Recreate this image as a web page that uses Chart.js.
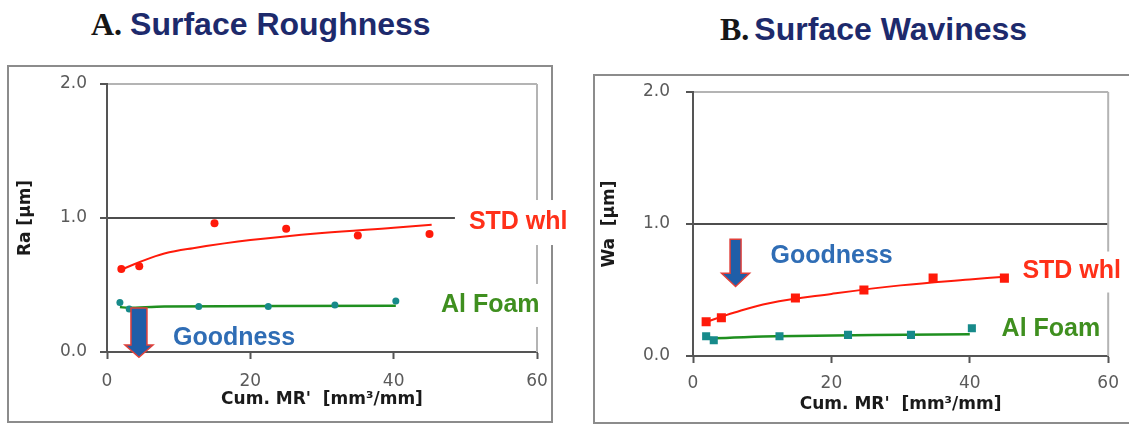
<!DOCTYPE html>
<html>
<head>
<meta charset="utf-8">
<script src="https://cdn.jsdelivr.net/npm/chart.js@4.4.0/dist/chart.umd.min.js"></script>
<style>
  html, body { margin: 0; padding: 0; background: #fff; }
  #page { position: relative; width: 1129px; height: 428px; overflow: hidden; background: #fff; }
  .frame { position: absolute; border: 2px solid #8c8c8c; box-sizing: border-box; }
  .title { position: absolute; white-space: nowrap; font: bold 32px/32px "Liberation Sans", Arial, sans-serif; }
  .title .lead { font-family: "Liberation Serif", "Times New Roman", serif; color: #161616; }
  .title .main { color: #1d2a6c; }
  canvas { position: absolute; top: 0; }
</style>
</head>
<body>
<div id="page">
  <div class="frame" style="left:7px; top:65px; width:546px; height:358px;"></div>
  <div class="frame" style="left:593px; top:74px; width:560px; height:350px;"></div>

  <div class="title" style="left:91px; top:8px;"><span class="lead">A.</span><span class="main" style="margin-left:8px;">Surface Roughness</span></div>
  <div class="title" style="left:720px; top:13px;"><span class="lead">B.</span><span class="main" style="margin-left:5px;">Surface Waviness</span></div>

  <canvas id="chartRa" width="570" height="428" style="left:0;"></canvas>
  <canvas id="chartWa" width="549" height="428" style="left:580px;"></canvas>
</div>

<script>
// ---- data (x = Cum. MR' mm3/mm) ----
// A. Surface Roughness, Ra [um]
const raStdX = [2, 4.5, 15, 25, 35, 45];
const raStdY = [0.62, 0.64, 0.96, 0.92, 0.87, 0.88];
const raStdFitX = [1.8, 4.5, 8, 12, 20, 30, 40, 45.3];
const raStdFitY = [0.61, 0.67, 0.735, 0.775, 0.835, 0.888, 0.928, 0.95];
const raFoamX = [1.8, 3.1, 12.8, 22.5, 31.8, 40.3];
const raFoamY = [0.37, 0.32, 0.34, 0.34, 0.35, 0.38];
const raFoamFitX = [1.8, 3, 8, 40.3];
const raFoamFitY = [0.335, 0.33, 0.34, 0.345];

// B. Surface Waviness, Wa [um]
const waStdX = [1.9, 4.1, 14.8, 24.7, 34.7, 45];
const waStdY = [0.26, 0.29, 0.44, 0.50, 0.59, 0.59];
const waStdFitX = [1.5, 6, 11, 20, 30, 40, 45];
const waStdFitY = [0.25, 0.33, 0.40, 0.47, 0.535, 0.58, 0.60];
const waFoamX = [1.9, 3.0, 12.5, 22.4, 31.5, 40.3];
const waFoamY = [0.15, 0.12, 0.15, 0.16, 0.16, 0.21];
const waFoamFitX = [1.5, 3, 12, 40];
const waFoamFitY = [0.14, 0.135, 0.15, 0.165];

// axis ticks
const xTicks = [0, 20, 40, 60];
const yTicks = [0, 1, 2];

// colours
const RED = '#ff1a0a';
const TEAL = '#178a8a';
const GREEN = '#1f8f1f';
const LABEL_RED = '#ff3019';
const LABEL_GREEN = '#3f8f1f';
const LABEL_BLUE = '#2f6db5';

const toPoints = (xs, ys) => xs.map((x, i) => ({ x: x, y: ys[i] }));

// plot-area border (right side) + text notes + "Goodness" arrow
const notesPlugin = {
  id: 'notes',
  beforeDatasetsDraw(chart) {
    const { ctx, chartArea: a } = chart;
    ctx.save();
    ctx.strokeStyle = '#b4b4b4';
    ctx.lineWidth = 2;
    ctx.beginPath();
    ctx.moveTo(a.right, a.top);
    ctx.lineTo(a.right, a.bottom);
    ctx.stroke();
    ctx.restore();
  },
  afterDraw(chart, args, opts) {
    const { ctx } = chart;
    const xs = chart.scales.x, ys = chart.scales.y;
    ctx.save();
    ctx.font = 'bold 25px "Liberation Sans", Arial, sans-serif';
    ctx.textAlign = 'left';
    ctx.textBaseline = 'middle';
    opts.labels.forEach(l => {
      const px = xs.getPixelForValue(l.x);
      const py = ys.getPixelForValue(l.y);
      const w = ctx.measureText(l.text).width;
      if (l.bg) {
        ctx.fillStyle = '#fff';
        ctx.fillRect(px - l.bg[0], py - l.bg[1], w + l.bg[0] + l.bg[2], l.bg[1] * 2 + 1);
      }
      ctx.fillStyle = l.color;
      ctx.fillText(l.text, px, py);
    });

    const ar = opts.arrow;
    const cx = xs.getPixelForValue(ar.x);
    const top = ys.getPixelForValue(ar.top);
    const neck = ys.getPixelForValue(ar.neck);
    const tip = ys.getPixelForValue(ar.tip);
    ctx.beginPath();
    ctx.moveTo(cx - ar.shaft, top);
    ctx.lineTo(cx + ar.shaft, top);
    ctx.lineTo(cx + ar.shaft, neck);
    ctx.lineTo(cx + ar.head, neck);
    ctx.lineTo(cx, tip);
    ctx.lineTo(cx - ar.head, neck);
    ctx.lineTo(cx - ar.shaft, neck);
    ctx.closePath();
    ctx.fillStyle = '#1f5ea8';
    ctx.fill();
    ctx.strokeStyle = '#e0403a';
    ctx.lineWidth = 1.5;
    ctx.stroke();
    ctx.restore();
  }
};

function makeChart(id, cfg) {
  const tickFont = { family: '"DejaVu Sans", sans-serif', size: 17 };
  const titleFont = { family: '"DejaVu Sans", sans-serif', size: 17, weight: 'bold' };

  return new Chart(document.getElementById(id), {
    type: 'scatter',
    data: {
      datasets: [
        {
          label: 'STD whl',
          data: toPoints(cfg.stdX, cfg.stdY),
          backgroundColor: RED, borderColor: RED,
          pointStyle: cfg.marker, pointRadius: cfg.stdRadius, borderWidth: 0
        },
        {
          label: 'STD whl fit',
          data: toPoints(cfg.stdFitX, cfg.stdFitY),
          showLine: true, borderColor: RED, borderWidth: 2,
          pointRadius: 0, tension: 0.4
        },
        {
          label: 'Al Foam',
          data: toPoints(cfg.foamX, cfg.foamY),
          backgroundColor: TEAL, borderColor: TEAL,
          pointStyle: cfg.marker, pointRadius: cfg.foamRadius, borderWidth: 0
        },
        {
          label: 'Al Foam fit',
          data: toPoints(cfg.foamFitX, cfg.foamFitY),
          showLine: true, borderColor: GREEN, borderWidth: 2.5,
          pointRadius: 0, tension: 0.3
        }
      ]
    },
    options: {
      responsive: false,
      animation: false,
      layout: { padding: cfg.padding },
      plugins: {
        legend: { display: false },
        tooltip: { enabled: false },
        notes: { labels: cfg.labels, arrow: cfg.arrow }
      },
      scales: {
        x: {
          type: 'linear', min: 0, max: 60,
          afterBuildTicks: s => { s.ticks = xTicks.map(v => ({ value: v })); },
          afterFit: s => { s.height = cfg.xHeight; },
          ticks: { color: '#5a5a5a', font: tickFont, padding: cfg.xTickPad, maxRotation: 0 },
          grid: { drawOnChartArea: false, drawTicks: true, tickLength: 7, tickColor: '#555', tickWidth: 2 },
          border: { display: true, color: '#555', width: 2 },
          title: {
            display: true, text: "Cum. MR'  [mm³/mm]", color: '#1a1a1a',
            font: titleFont, padding: { top: 0, bottom: cfg.xTitlePad }
          }
        },
        y: {
          type: 'linear', min: 0, max: 2,
          afterBuildTicks: s => { s.ticks = yTicks.map(v => ({ value: v })); },
          afterFit: s => { s.width = cfg.yWidth; },
          ticks: { color: '#5a5a5a', font: tickFont, padding: cfg.yTickPad, callback: v => v.toFixed(1) },
          grid: {
            color: c => c.tick && c.tick.value === 1 ? '#4d4d4d' : (c.tick && c.tick.value === 2 ? '#b4b4b4' : 'rgba(0,0,0,0)'),
            lineWidth: 2, drawTicks: true, tickLength: 7, tickColor: '#555', tickWidth: 2
          },
          border: { display: true, color: '#555', width: 2 },
          title: {
            display: true, text: cfg.yTitle, color: '#1a1a1a',
            font: titleFont, padding: { top: cfg.yTitlePad, bottom: 0 }
          }
        }
      }
    },
    plugins: [notesPlugin]
  });
}

makeChart('chartRa', {
  stdX: raStdX, stdY: raStdY, stdFitX: raStdFitX, stdFitY: raStdFitY,
  foamX: raFoamX, foamY: raFoamY, foamFitX: raFoamFitX, foamFitY: raFoamFitY,
  marker: 'circle', stdRadius: 4, foamRadius: 3.5,
  padding: { left: 0, right: 33, top: 84, bottom: 0 },
  yWidth: 107, xHeight: 76, xTickPad: 12, yTickPad: 13, xTitlePad: 18, yTitlePad: 15,
  yTitle: 'Ra [µm]',
  labels: [
    { text: 'STD whl', x: 50.5, y: 0.97, color: LABEL_RED, bg: [14, 22, 10] },
    { text: 'Al Foam', x: 46.6, y: 0.351, color: LABEL_GREEN, bg: [11, 21, 10] },
    { text: 'Goodness', x: 9.2, y: 0.104, color: LABEL_BLUE }
  ],
  arrow: { x: 4.46, top: 0.328, neck: 0.052, tip: -0.04, shaft: 8, head: 14 }
});

makeChart('chartWa', {
  stdX: waStdX, stdY: waStdY, stdFitX: waStdFitX, stdFitY: waStdFitY,
  foamX: waFoamX, foamY: waFoamY, foamFitX: waFoamFitX, foamFitY: waFoamFitY,
  marker: 'rect', stdRadius: 6.4, foamRadius: 5.7,
  padding: { left: 0, right: 13, top: 92, bottom: 0 },
  yWidth: 113, xHeight: 72, xTickPad: 10, yTickPad: 16, xTitlePad: 13, yTitlePad: 19,
  yTitle: 'Wa  [µm]',
  labels: [
    { text: 'STD whl', x: 47.6, y: 0.64, color: LABEL_RED, bg: [8, 20, 10] },
    { text: 'Al Foam', x: 44.6, y: 0.203, color: LABEL_GREEN },
    { text: 'Goodness', x: 11.2, y: 0.753, color: LABEL_BLUE }
  ],
  arrow: { x: 6.15, top: 0.885, neck: 0.627, tip: 0.526, shaft: 5.5, head: 14 }
});
</script>
</body>
</html>
